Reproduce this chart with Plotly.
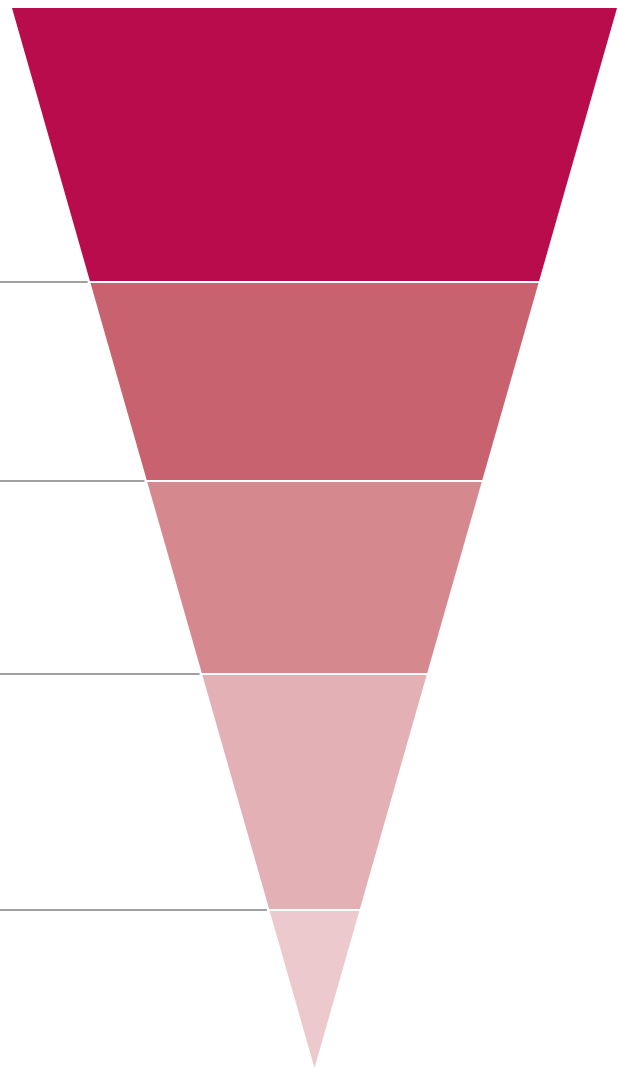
import plotly.graph_objects as go

# Funnel stages (segment sizes, top to bottom)
stages = ["Stage 1", "Stage 2", "Stage 3", "Stage 4", "Stage 5"]
values = [274, 199, 193, 236, 158]
colors = ["#B80C4C", "#C8626F", "#D5898F", "#E3B0B5", "#ECC9CC"]

W, H = 618, 1068
top_y = 8
apex_y = H
cx = 314.5
top_half = 302.5
total = sum(values)
scale = (apex_y - top_y) / total


def half_width(y):
    return top_half * (apex_y - y) / (apex_y - top_y)


fig = go.Figure()
cum = 0
bounds = []
for name, v, c in zip(stages, values, colors):
    y0 = top_y + cum * scale
    cum += v
    y1 = top_y + cum * scale
    h0, h1 = half_width(y0), half_width(y1)
    xs = [cx - h0, cx + h0, cx + h1, cx - h1, cx - h0]
    ys = [y0, y0, y1, y1, y0]
    fig.add_trace(go.Scatter(x=xs, y=ys, fill="toself", fillcolor=c, mode="lines",
                             line=dict(color="white", width=0), name=name,
                             hoverinfo="name", showlegend=False))
    bounds.append(y1)

# white separators and gray leader lines
for y in bounds[:-1]:
    h = half_width(y)
    fig.add_trace(go.Scatter(x=[cx - h - 1, cx + h + 1], y=[y, y], mode="lines",
                             line=dict(color="white", width=2), hoverinfo="skip", showlegend=False))
    fig.add_trace(go.Scatter(x=[0, cx - h - 2.5], y=[y, y], mode="lines",
                             line=dict(color="#808080", width=1.6), hoverinfo="skip", showlegend=False))

fig.update_layout(
    width=W, height=H, margin=dict(l=0, r=0, t=0, b=0),
    paper_bgcolor="white", plot_bgcolor="white",
    xaxis=dict(range=[0, W], visible=False, fixedrange=True),
    yaxis=dict(range=[H, 0], visible=False, fixedrange=True),
)
fig.write_html("out.html", config={"displayModeBar": False},
               post_script="document.body.style.margin='0';document.body.style.overflow='hidden';")
